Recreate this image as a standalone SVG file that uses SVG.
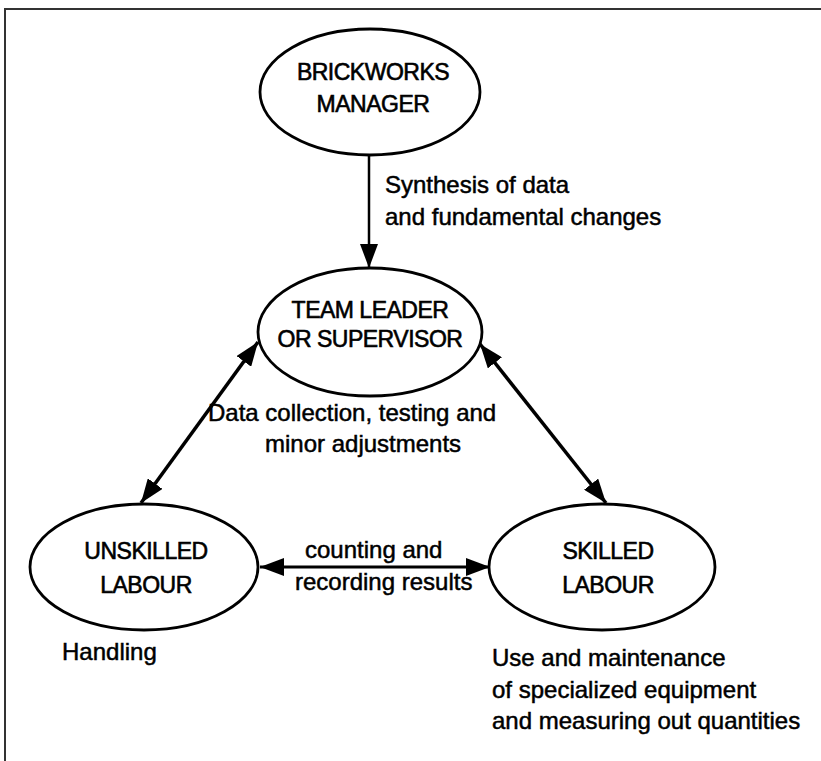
<svg xmlns="http://www.w3.org/2000/svg" width="821" height="761" viewBox="0 0 821 761">
  <style>
    .frame { fill: none; stroke: #333; stroke-width: 2; }
    .node { fill: #fff; stroke: #000; stroke-width: 2.8; }
    .nlabel { font-family: "Liberation Sans", Arial, sans-serif; font-size: 23px; fill: #000; stroke: #000; stroke-width: 0.6; text-anchor: middle; letter-spacing: -0.5px; }
    .elabel { font-family: "Liberation Sans", Arial, sans-serif; font-size: 24px; fill: #000; stroke: #000; stroke-width: 0.5; }
    .edge { fill: none; stroke: #000; }
  </style>
  <defs>
    <marker id="arrow" markerUnits="userSpaceOnUse" markerWidth="24" markerHeight="18" refX="24" refY="9" orient="auto-start-reverse" viewBox="0 0 24 18">
      <path d="M0,0 L24,9 L0,18 Z" fill="#000"/>
    </marker>
  </defs>
  <rect width="821" height="761" fill="#fff"/>
  <rect class="frame" x="5" y="9" width="830" height="770"/>

  <g id="connectors">
    <line class="edge" x1="369" y1="155" x2="369" y2="268" stroke-width="2.5" marker-end="url(#arrow)"/>
    <line class="edge" x1="258" y1="342" x2="141" y2="503" stroke-width="3.5" marker-start="url(#arrow)" marker-end="url(#arrow)"/>
    <line class="edge" x1="480" y1="344" x2="606" y2="503" stroke-width="3.5" marker-start="url(#arrow)" marker-end="url(#arrow)"/>
    <line class="edge" x1="260" y1="567" x2="490" y2="567" stroke-width="3" marker-start="url(#arrow)" marker-end="url(#arrow)"/>
    <text class="elabel" x="385" y="193">Synthesis of data</text>
    <text class="elabel" x="385" y="225">and fundamental changes</text>
    <text class="elabel" x="208" y="421">Data collection, testing and</text>
    <text class="elabel" x="265" y="452">minor adjustments</text>
    <text class="elabel" x="305" y="558">counting and</text>
    <text class="elabel" x="295" y="590">recording results</text>
  </g>

  <g id="n-manager">
    <ellipse class="node" cx="370" cy="92" rx="110" ry="63"/>
    <text class="nlabel" x="373" y="80">BRICKWORKS</text>
    <text class="nlabel" x="373" y="112">MANAGER</text>
  </g>

  <g id="n-leader">
    <ellipse class="node" cx="370" cy="332" rx="112" ry="64"/>
    <text class="nlabel" x="370" y="318">TEAM LEADER</text>
    <text class="nlabel" x="370" y="347">OR SUPERVISOR</text>
  </g>

  <g id="n-unskilled">
    <ellipse class="node" cx="144" cy="567" rx="114" ry="63"/>
    <text class="nlabel" x="146" y="559">UNSKILLED</text>
    <text class="nlabel" x="146" y="593">LABOUR</text>
    <text class="elabel" x="62" y="660">Handling</text>
  </g>

  <g id="n-skilled">
    <ellipse class="node" cx="602" cy="567" rx="113" ry="63"/>
    <text class="nlabel" x="608" y="559">SKILLED</text>
    <text class="nlabel" x="608" y="593">LABOUR</text>
    <text class="elabel" x="492" y="666">Use and maintenance</text>
    <text class="elabel" x="492" y="698">of specialized equipment</text>
    <text class="elabel" x="492" y="729">and measuring out quantities</text>
  </g>
</svg>
